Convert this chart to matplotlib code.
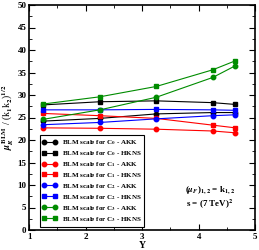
import matplotlib
matplotlib.use('Agg')
import matplotlib.pyplot as plt
from matplotlib.ticker import MultipleLocator

plt.rcParams['font.family'] = ['Liberation Serif', 'DejaVu Serif']
plt.rcParams['font.weight'] = 'bold'
plt.rcParams['mathtext.fontset'] = 'stix'

# rapidity values
Y = [1.25, 2.25, 3.25, 4.25, 4.65]

# BLM scales
c0_akk = [24.2, 24.8, 25.8, 26.1, 26.1]
c0_hkns = [27.8, 28.5, 28.7, 28.3, 27.9]
c1_akk = [22.7, 22.6, 22.4, 22.0, 21.6]
c1_hkns = [25.9, 25.4, 24.8, 23.3, 22.7]
c2_akk = [23.4, 23.9, 24.7, 25.4, 25.6]
c2_hkns = [26.7, 26.7, 26.8, 26.7, 26.6]
c3_akk = [24.6, 26.7, 29.5, 33.9, 36.5]
c3_hkns = [28.0, 29.6, 31.9, 35.6, 37.6]

labels = ['BLM scale for C$_\\mathbf{0}$ - AKK', 'BLM scale for C$_\\mathbf{0}$ - HKNS',
          'BLM scale for C$_\\mathbf{1}$ - AKK', 'BLM scale for C$_\\mathbf{1}$ - HKNS',
          'BLM scale for C$_\\mathbf{2}$ - AKK', 'BLM scale for C$_\\mathbf{2}$ - HKNS',
          'BLM scale for C$_\\mathbf{3}$ - AKK', 'BLM scale for C$_\\mathbf{3}$ - HKNS']
series = [c0_akk, c0_hkns, c1_akk, c1_hkns, c2_akk, c2_hkns, c3_akk, c3_hkns]
colori = ['black', 'black', 'red', 'red', 'blue', 'blue', '#008c00', '#008c00']
marker = ['o', 's', 'o', 's', 'o', 's', 'o', 's']

fig = plt.figure(figsize=(2.59, 2.5), dpi=100)
ax = fig.add_axes([0.113, 0.08, 0.872, 0.9])

for s, lab, c, m in zip(series, labels, colori, marker):
    ax.plot(Y, s, color=c, marker=m, markersize=3.2, linewidth=0.8, label=lab)

ax.set_xlim(1, 5)
ax.set_ylim(0, 50)
ax.xaxis.set_major_locator(MultipleLocator(1))
ax.xaxis.set_minor_locator(MultipleLocator(0.5))
ax.yaxis.set_major_locator(MultipleLocator(5))
ax.yaxis.set_minor_locator(MultipleLocator(2.5))
ax.tick_params(which='both', direction='in', top=True, right=True, labelsize=6.5, pad=2)
ax.tick_params(which='major', length=4, width=0.8)
ax.tick_params(which='minor', length=2, width=0.6)
for sp in ax.spines.values():
    sp.set_linewidth(1.2)

ax.set_xlabel('Y', fontsize=7, fontweight='bold', labelpad=0)
ax.set_ylabel(r'$\mu_R^{\rm BLM}$ / (k$_1$k$_2$)$^{1/2}$', fontsize=7, labelpad=1)

ax.text(4.2, 8.2, r'($\mu_F$)$_{1,2}$ = k$_{1,2}$', fontsize=6.5, ha='center')
ax.text(4.2, 5.0, r's = (7 TeV)$^2$', fontsize=6.5, ha='center')

leg = ax.legend(loc='lower left', bbox_to_anchor=(0.03, 0.0), fontsize=5.0, numpoints=2,
                handlelength=2.2, handletextpad=0.6, labelspacing=0.3,
                fancybox=False, edgecolor='black', borderpad=0.4, framealpha=1)
leg.get_frame().set_linewidth(0.8)

fig.savefig('out.png', dpi=100)
